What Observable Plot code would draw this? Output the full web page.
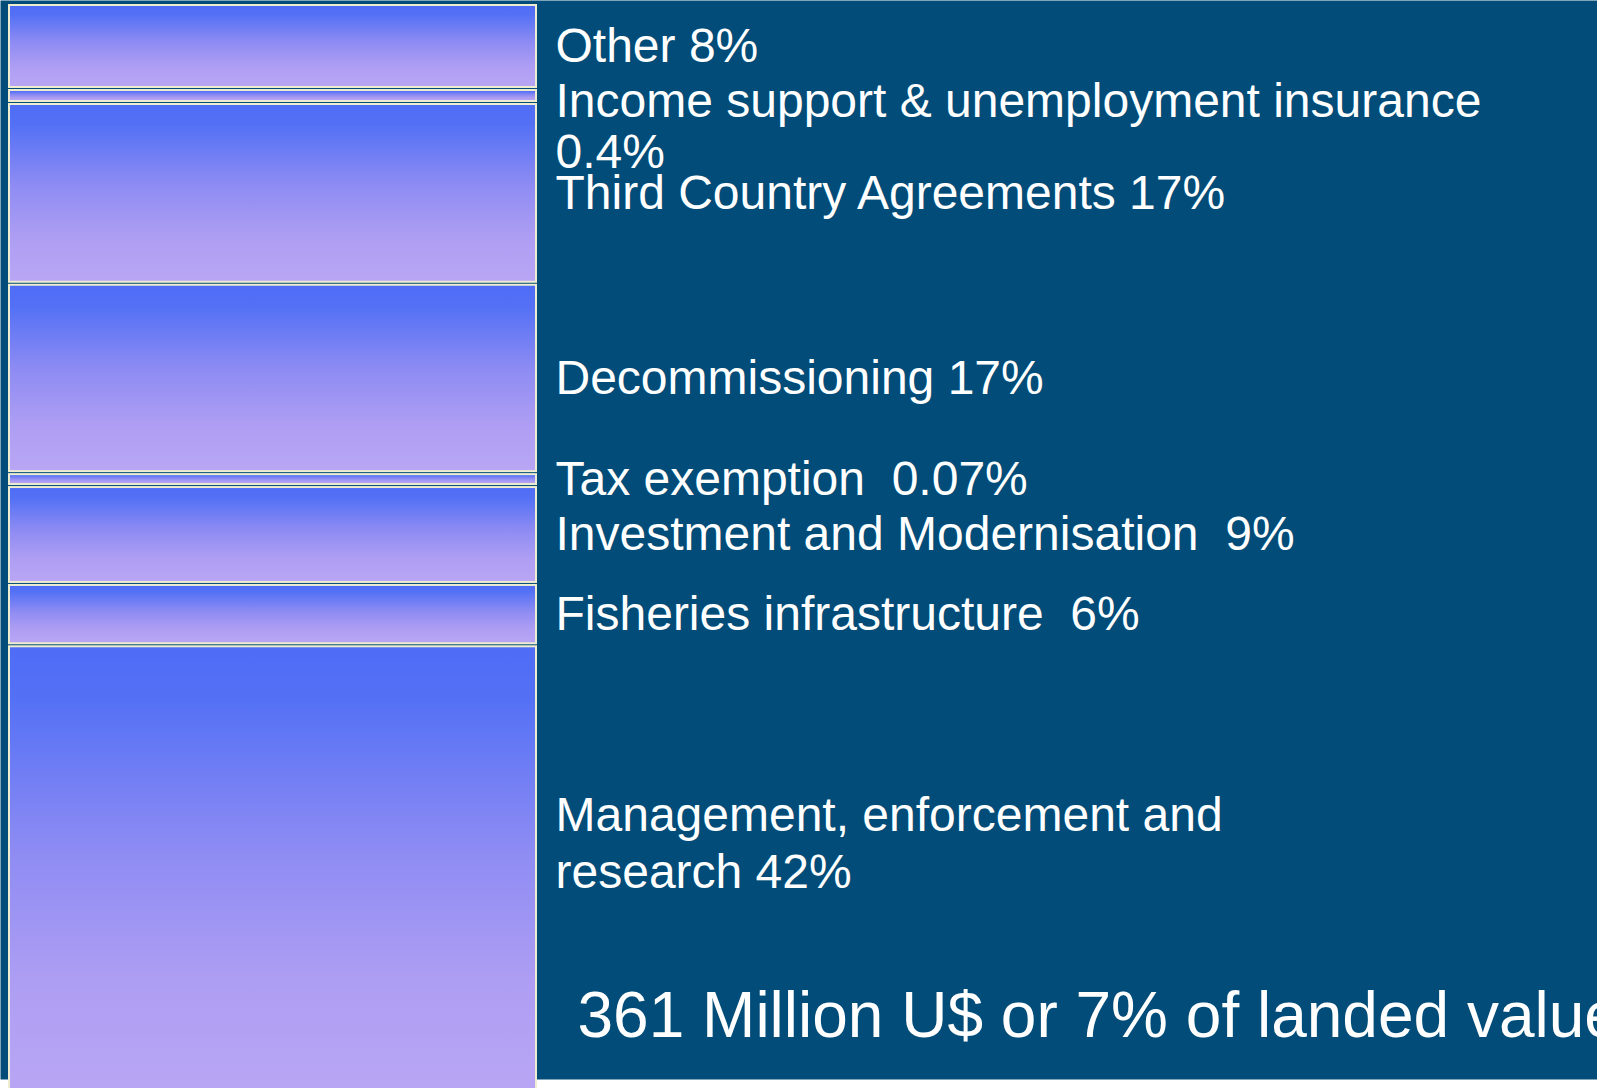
<!DOCTYPE html>
<html>
<head>
<meta charset="utf-8">
<script src="https://cdn.jsdelivr.net/npm/d3@7"></script>
<script src="https://cdn.jsdelivr.net/npm/@observablehq/plot@0.6"></script>
<style>
  html, body { margin: 0; padding: 0; background: #ffffff; overflow: hidden; }
  #chart { position: relative; }
</style>
</head>
<body>
<div id="chart"></div>
<script>
// ---- Data ----
const categories = [
  "Other",
  "Income support & unemployment insurance",
  "Third Country Agreements",
  "Decommissioning",
  "Tax exemption",
  "Investment and Modernisation",
  "Fisheries infrastructure",
  "Management, enforcement and research"
];
// share label shown next to each segment
const percentLabels = ["8%", "0.4%", "17%", "17%", "0.07%", "9%", "6%", "42%"];
// label text as printed (with the original spacing / line breaks)
const labelTexts = [
  "Other 8%",
  "Income support & unemployment insurance\n0.4%",
  "Third Country Agreements 17%",
  "Decommissioning 17%",
  "Tax exemption  0.07%",
  "Investment and Modernisation  9%",
  "Fisheries infrastructure  6%",
  "Management, enforcement and\nresearch 42%"
];
// segment thickness (tiny items drawn with a minimum visible thickness)
const segmentShare = [7.9, 1.3, 16.8, 17.6, 1.2, 9.1, 5.7, 42];
const caption = "361 Million U$ or 7% of landed value";

// ---- Table built from the arrays (stack from top) ----
let acc = 0;
const table = categories.map((c, i) => {
  const y1 = acc;
  acc += segmentShare[i];
  return { category: c, pct: percentLabels[i], label: labelTexts[i], y1, y2: acc, mid: (y1 + acc) / 2 };
});
const total = acc;

const font = "Arial, 'Liberation Sans', sans-serif";
const pxPerUnit = 10.76;

const singleLine = table.filter(d => !d.label.includes("\n"));
const topAnchored = table.filter(d => d.category === "Income support & unemployment insurance");
const bottomAnchored = table.filter(d => d.category === "Management, enforcement and research");

const plot = Plot.plot({
  width: 1597,
  height: 1088,
  marginTop: 0,
  marginRight: 0,
  marginBottom: 9,
  marginLeft: 0,
  style: { background: "transparent", overflow: "hidden", fontFamily: font },
  x: { domain: [0, 1], range: [8, 537], axis: null },
  y: { domain: [0, total], range: [3.5, 3.5 + total * pxPerUnit], axis: null },
  marks: [
    Plot.frame({ fill: "#014c78", stroke: "none" }),
    Plot.rect(table, {
      x1: () => 0, x2: () => 1, y1: "y1", y2: "y2",
      fill: "url(#segGrad)",
      stroke: "#eeedcf",
      strokeWidth: 2,
      insetTop: 1.5, insetBottom: 1.5, insetLeft: 1, insetRight: 1
    }),
    Plot.text(singleLine, {
      x: () => 1, y: "mid", text: "label",
      dx: 18, textAnchor: "start", lineAnchor: "middle",
      fill: "white", fontSize: 48, fontFamily: font
    }),
    Plot.text(topAnchored, {
      x: () => 1, y: "mid", text: "label",
      dx: 18, dy: -15.5, textAnchor: "start", lineAnchor: "top", lineHeight: 1.07,
      fill: "white", fontSize: 48, fontFamily: font
    }),
    Plot.text(bottomAnchored, {
      x: () => 1, y: "mid", text: "label",
      dx: 18, dy: 17, textAnchor: "start", lineAnchor: "bottom", lineHeight: 1.2,
      fill: "white", fontSize: 48, fontFamily: font
    }),
    Plot.text([caption], {
      text: d => d,
      frameAnchor: "bottom-left",
      dx: 577, dy: -43, textAnchor: "start", lineAnchor: "bottom",
      fill: "white", fontSize: 64, fontFamily: font
    })
  ]
});

// gradient definition used by the segments
const ns = "http://www.w3.org/2000/svg";
const defs = document.createElementNS(ns, "defs");
const grad = document.createElementNS(ns, "linearGradient");
grad.setAttribute("id", "segGrad");
grad.setAttribute("x1", "0"); grad.setAttribute("y1", "0");
grad.setAttribute("x2", "0"); grad.setAttribute("y2", "1");
[["0", "#4e6cf6"], ["0.12", "#5471f5"], ["0.45", "#8d8bf3"], ["0.75", "#ae9ef3"], ["1", "#b9a6f4"]].forEach(([o, c]) => {
  const s = document.createElementNS(ns, "stop");
  s.setAttribute("offset", o);
  s.setAttribute("stop-color", c);
  grad.appendChild(s);
});
defs.appendChild(grad);
plot.insertBefore(defs, plot.firstChild);

document.getElementById("chart").appendChild(plot);
</script>
</body>
</html>
